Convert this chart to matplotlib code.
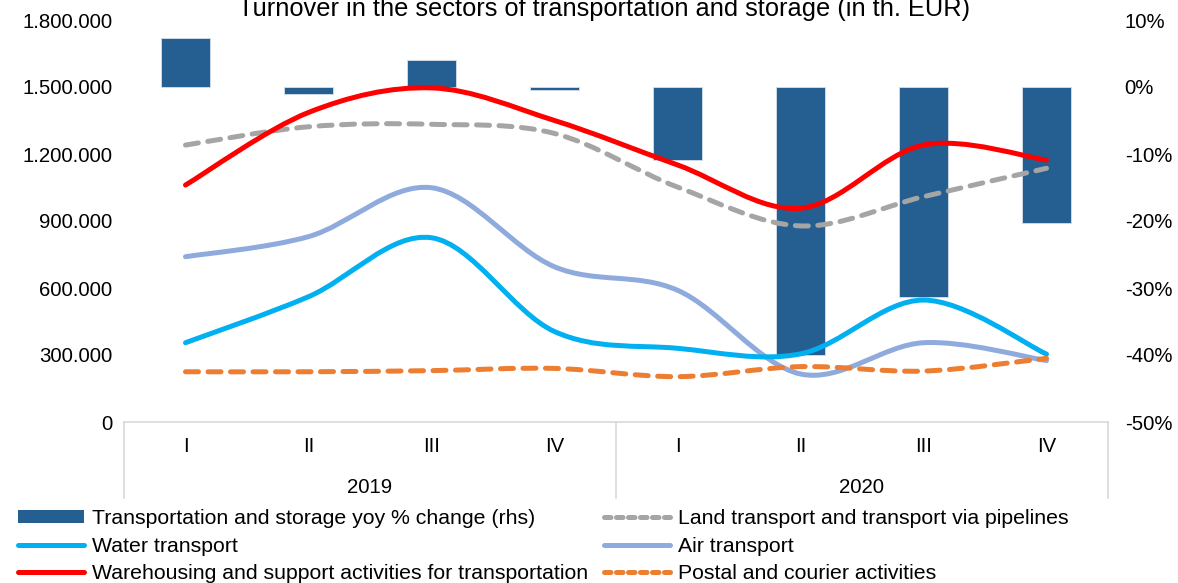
import matplotlib
matplotlib.use("Agg")
import matplotlib.pyplot as plt
from matplotlib.path import Path
from matplotlib.patches import PathPatch, Patch
from matplotlib.lines import Line2D
from matplotlib.ticker import FuncFormatter, FixedLocator
import matplotlib.transforms as mtransforms

plt.rcParams["font.family"] = ["Liberation Sans", "DejaVu Sans"]

# ── Data ─────────────────────────────────────────────────────────────────────
quarters = ["I", "II", "III", "IV", "I", "II", "III", "IV"]
years = ["2019", "2020"]

yoy_change = [7.3, -1.0, 4.1, -0.45, -10.9, -40.0, -31.3, -20.3]  # %, rhs

land = [1240000, 1322000, 1333000, 1292000, 1052000, 878000, 1009000, 1136000]
water = [355000, 561000, 825000, 405000, 330000, 305000, 546000, 304000]
air = [740000, 830000, 1049000, 695000, 590000, 215000, 355000, 275000]
warehousing = [1061000, 1386000, 1496000, 1350000, 1151000, 957000, 1240000, 1173000]
postal = [225000, 225000, 230000, 240000, 203000, 248000, 228000, 285000]

BAR_COLOR = "#255E91"
FS = 14.7


def smooth_path(xs, ys):
    """Bezier path through the points (Catmull-Rom style, like Excel's smoothed lines)."""
    pts = list(zip(xs, ys))
    n = len(pts)
    verts = [pts[0]]
    codes = [Path.MOVETO]
    for i in range(n - 1):
        p0 = pts[i - 1] if i > 0 else pts[i]
        p1 = pts[i]
        p2 = pts[i + 1]
        p3 = pts[i + 2] if i + 2 < n else pts[i + 1]
        c1 = (p1[0] + (p2[0] - p0[0]) / 6, p1[1] + (p2[1] - p0[1]) / 6)
        c2 = (p2[0] - (p3[0] - p1[0]) / 6, p2[1] - (p3[1] - p1[1]) / 6)
        verts += [c1, c2, p2]
        codes += [Path.CURVE4] * 3
    return Path(verts, codes)


fig = plt.figure(figsize=(11.78, 5.83), dpi=100)
ax = fig.add_axes([124 / 1178, 1 - 422 / 583, 984 / 1178, 402 / 583])
axr = ax.twinx()

# bars sit behind the lines
axr.set_zorder(0)
ax.set_zorder(1)
ax.patch.set_visible(False)

x = list(range(len(quarters)))
axr.bar(x, yoy_change, width=0.4, color=BAR_COLOR, edgecolor="#D6E0EC",
        linewidth=0.6)
axr.set_ylim(-50, 10)
axr.yaxis.set_major_locator(FixedLocator([-50, -40, -30, -20, -10, 0, 10]))
axr.yaxis.set_major_formatter(FuncFormatter(lambda v, p: f"{v:.0f}%"))

series = [
    (land, "#A5A5A5", (0, (2.6, 1.9))),
    (air, "#8FAADC", "solid"),
    (water, "#00B0F0", "solid"),
    (postal, "#ED7D31", (0, (2.6, 1.9))),
    (warehousing, "#FF0000", "solid"),
]
for values, color, ls in series:
    ax.add_patch(PathPatch(smooth_path(x, values), fill=False, edgecolor=color,
                           linewidth=3.6, linestyle=ls, capstyle="round",
                           joinstyle="round"))

ax.set_xlim(-0.5, len(quarters) - 0.5)
ax.set_ylim(0, 1800000)
ax.yaxis.set_major_locator(FixedLocator(range(0, 1800001, 300000)))
ax.yaxis.set_major_formatter(
    FuncFormatter(lambda v, p: f"{int(v):,}".replace(",", ".")))

for a in (ax, axr):
    for s in a.spines.values():
        s.set_visible(False)
ax.tick_params(axis="y", length=0, labelsize=FS, pad=8.5)
axr.tick_params(axis="y", length=0, labelsize=FS, pad=12)
ax.spines["bottom"].set_visible(True)
ax.spines["bottom"].set_color("#D9D9D9")
ax.spines["bottom"].set_linewidth(1.2)

ax.set_xticks(x)
ax.set_xticklabels(quarters, fontsize=FS)
ax.tick_params(axis="x", length=0, pad=11)

# year groups below the quarter labels
trans = mtransforms.blended_transform_factory(ax.transData, ax.transAxes)
for xs in (-0.5, 3.5, 7.5):
    ax.add_line(Line2D([xs, xs], [0, -0.19], transform=trans, color="#D9D9D9",
                       linewidth=1.2, clip_on=False))
for i, yr in enumerate(years):
    ax.text(1.5 + 4 * i, -0.163, yr, transform=trans, ha="center", va="center",
            fontsize=FS)

fig.text(604 / 1178, 1 - 16 / 583,
         "Turnover in the sectors of transportation and storage (in th. EUR)",
         ha="center", va="baseline", fontsize=18.3)

# legend: two columns
handles_left = [
    Patch(facecolor=BAR_COLOR, edgecolor="none"),
    Line2D([], [], color="#00B0F0", linewidth=3.6, solid_capstyle="round"),
    Line2D([], [], color="#FF0000", linewidth=3.6, solid_capstyle="round"),
]
labels_left = ["Transportation and storage yoy % change (rhs)", "Water transport",
               "Warehousing and support activities for transportation"]
handles_right = [
    Line2D([], [], color="#A5A5A5", linewidth=3.6, linestyle=(0, (1.3, 1.1)),
           dash_capstyle="round"),
    Line2D([], [], color="#8FAADC", linewidth=3.6, solid_capstyle="round"),
    Line2D([], [], color="#ED7D31", linewidth=3.6, linestyle=(0, (1.3, 1.1)),
           dash_capstyle="round"),
]
labels_right = ["Land transport and transport via pipelines", "Air transport",
                "Postal and courier activities"]

for hs, ls, xpos in ((handles_left, labels_left, 18),
                     (handles_right, labels_right, 604)):
    fig.legend(hs, ls, loc="upper left", bbox_to_anchor=(xpos / 1178, 1 - 509 / 583),
               frameon=False, fontsize=15.3, borderpad=0, borderaxespad=0,
               handlelength=3.1, handleheight=0.5, handletextpad=0.4,
               labelspacing=0.4)

fig.savefig("out.png", dpi=100)
